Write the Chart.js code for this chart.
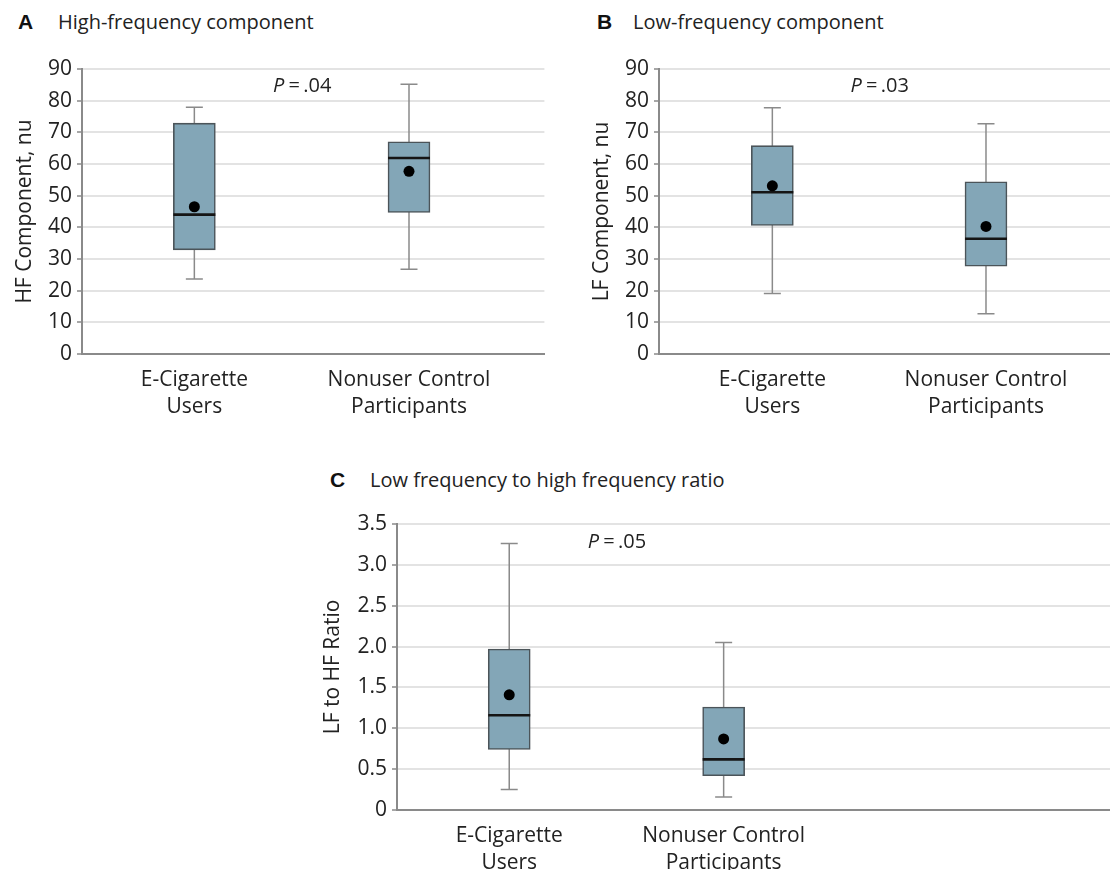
<!DOCTYPE html>
<html>
<head>
<meta charset="utf-8">
<script src="https://cdn.jsdelivr.net/npm/chart.js@4"></script>
<style>
  html, body { margin: 0; padding: 0; background: #fff; }
  #page { position: relative; width: 1110px; height: 870px; overflow: hidden; }
  canvas { position: absolute; }
  .lbl { position: absolute; font: bold 21px "Liberation Sans", Arial, sans-serif; color: #111; line-height: 24px; }
  .ttl { position: absolute; font: 20px "Open Sans", sans-serif; color: #222; line-height: 24px; }
</style>
</head>
<body>
<div id="page">
  <div class="lbl" style="left:18px;top:10px">A</div>
  <div class="ttl" style="left:58px;top:10px">High-frequency component</div>
  <div class="lbl" style="left:597px;top:10px">B</div>
  <div class="ttl" style="left:633px;top:10px">Low-frequency component</div>
  <div class="lbl" style="left:330px;top:468px">C</div>
  <div class="ttl" style="left:370px;top:468px">Low frequency to high frequency ratio</div>
  <canvas id="chartA" width="568" height="440" style="left:0;top:0"></canvas>
  <canvas id="chartB" width="558" height="440" style="left:577px;top:0"></canvas>
  <canvas id="chartC" width="827" height="410" style="left:308px;top:460px"></canvas>
</div>
<script>
// ---------- Data ----------
const groups = [["E-Cigarette", "Users"], ["Nonuser Control", "Participants"]];
const groupPos = [1, 2];

// A: HF component, nu
const hfMin  = [23.7, 26.8];
const hfQ1   = [32.9, 44.7];
const hfMed  = [44.0, 61.9];
const hfQ3   = [72.9, 67.0];
const hfMax  = [77.9, 85.2];
const hfMean = [46.5, 57.7];

// B: LF component, nu
const lfMin  = [19.1, 12.7];
const lfQ1   = [40.6, 27.7];
const lfMed  = [51.1, 36.4];
const lfQ3   = [65.8, 54.4];
const lfMax  = [77.8, 72.7];
const lfMean = [53.1, 40.3];

// C: LF to HF ratio
const ratioMin  = [0.25, 0.16];
const ratioQ1   = [0.74, 0.42];
const ratioMed  = [1.16, 0.62];
const ratioQ3   = [1.97, 1.26];
const ratioMax  = [3.26, 2.05];
const ratioMean = [1.41, 0.87];

const pValues = [".04", ".03", ".05"];

// ---------- Style ----------
const FONT = '"Open Sans", sans-serif';
const TEXT = "#222";
const BOX_FILL = "#83a6b7";
const BOX_EDGE = "#4b5459";
const WHISKER = "#8a8a8a";
const GRID = "#e3e3e3";
const AXIS = "#8a8a8a";

Chart.defaults.font.family = FONT;
Chart.defaults.font.size = 21;
Chart.defaults.color = TEXT;

// P value text, placed through the chart's scales
const pLabel = {
  id: "pLabel",
  afterDatasetsDraw(chart, args, opts) {
    const { ctx, scales: { x, y } } = chart;
    const px = x.getPixelForValue(opts.x);
    const py = y.getPixelForValue(opts.y);
    ctx.save();
    ctx.fillStyle = TEXT;
    ctx.textBaseline = "middle";
    ctx.font = "italic 20px " + FONT;
    const wP = ctx.measureText("P").width;
    const rest = "\u2009=\u2009" + opts.text;
    ctx.font = "20px " + FONT;
    const wR = ctx.measureText(rest).width;
    let x0 = px - (wP + wR) / 2;
    ctx.font = "italic 20px " + FONT;
    ctx.textAlign = "left";
    ctx.fillText("P", x0, py);
    ctx.font = "20px " + FONT;
    ctx.fillText(rest, x0 + wP + 1, py);
    ctx.restore();
  }
};

function boxChart(id, d, o) {
  const pts = arr => arr.map((v, i) => ({ x: groupPos[i], y: v }));
  const whiskers = [];
  groupPos.forEach((p, i) => {
    whiskers.push({ x: p, y: d.min[i] }, { x: p, y: d.max[i] });
    if (i < groupPos.length - 1) whiskers.push({ x: p + 0.5, y: null });
  });
  const caps = pts(d.min).concat(pts(d.max));

  return new Chart(document.getElementById(id), {
    type: "bar",
    data: {
      datasets: [
        {
          type: "line", data: whiskers, borderColor: WHISKER, borderWidth: 1.5,
          pointRadius: 0, spanGaps: false, order: 5
        },
        {
          type: "bar", data: d.q1.map((v, i) => ({ x: groupPos[i], y: [v, d.q3[i]] })),
          backgroundColor: BOX_FILL, borderColor: BOX_EDGE, borderWidth: 1.6,
          borderSkipped: false, barThickness: 42, order: 4
        },
        {
          type: "scatter", data: caps, pointStyle: "line", pointRadius: 8.5,
          borderColor: WHISKER, borderWidth: 1.5, order: 3
        },
        {
          type: "scatter", data: pts(d.med), pointStyle: "line", pointRadius: 21,
          borderColor: "#151515", borderWidth: 2.6, order: 2
        },
        {
          type: "scatter", data: pts(d.mean), pointStyle: "circle", pointRadius: 5.5,
          backgroundColor: "#000", borderColor: "#000", borderWidth: 0, order: 1
        }
      ]
    },
    options: {
      responsive: false,
      animation: false,
      layout: { padding: { top: o.padTop, right: 0, bottom: o.padBottom, left: 0 } },
      plugins: {
        legend: { display: false },
        tooltip: { enabled: false },
        pLabel: { x: 1.5, y: o.pY, text: o.p }
      },
      scales: {
        x: {
          type: "linear", min: o.xMin, max: o.xMax, offset: false,
          grid: { display: false },
          border: { display: true, color: AXIS, width: 2 },
          afterBuildTicks: s => { s.ticks = groupPos.map(v => ({ value: v })); },
          afterFit: s => { s.height = o.xHeight; },
          ticks: {
            autoSkip: false, maxRotation: 0, padding: 4,
            font: { size: 21, lineHeight: 1.3 },
            callback: v => groups[groupPos.indexOf(v)] || ""
          }
        },
        y: {
          min: o.yMin, max: o.yMax,
          afterFit: s => { s.width = o.yWidth; },
          grid: {
            color: c => (c.tick && c.tick.value === 0 ? AXIS : GRID),
            lineWidth: 2, tickColor: AXIS, tickLength: 5, tickWidth: 1.5
          },
          border: { display: true, color: AXIS, width: 2 },
          ticks: { stepSize: o.step, padding: 5, callback: o.fmt },
          title: { display: true, text: o.title, font: { size: 21 }, padding: { top: 12, bottom: 0 } }
        }
      }
    },
    plugins: [pLabel]
  });
}

boxChart("chartA",
  { min: hfMin, q1: hfQ1, med: hfMed, q3: hfQ3, max: hfMax, mean: hfMean },
  { padTop: 69, padBottom: 16, xHeight: 70, yWidth: 82,
    xMin: 0.4766, xMax: 2.6308, yMin: 0, yMax: 90, step: 10, fmt: v => v,
    title: "HF Component, nu", p: pValues[0], pY: 84.5 });

boxChart("chartB",
  { min: lfMin, q1: lfQ1, med: lfMed, q3: lfQ3, max: lfMax, mean: lfMean },
  { padTop: 69, padBottom: 16, xHeight: 70, yWidth: 82,
    xMin: 0.4695, xMax: 2.587, yMin: 0, yMax: 90, step: 10, fmt: v => v,
    title: "LF Component, nu", p: pValues[1], pY: 84.5 });

boxChart("chartC",
  { min: ratioMin, q1: ratioQ1, med: ratioMed, q3: ratioQ3, max: ratioMax, mean: ratioMean },
  { padTop: 64, padBottom: 0, xHeight: 60, yWidth: 89,
    xMin: 0.4766, xMax: 3.8084, yMin: 0, yMax: 3.5, step: 0.5,
    fmt: v => (v === 0 ? "0" : v.toFixed(1)),
    title: "LF to HF Ratio", p: pValues[2], pY: 3.28 });
</script>
</body>
</html>
